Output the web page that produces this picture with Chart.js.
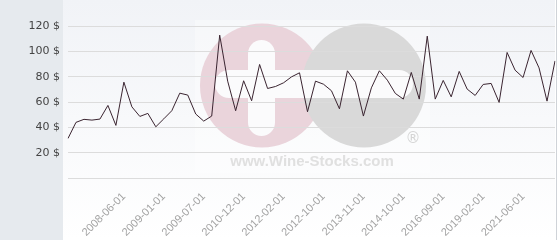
<!DOCTYPE html>
<html>
<head>
<meta charset="utf-8">
<script src="https://cdn.jsdelivr.net/npm/chart.js@4"></script>
<style>
  html, body { margin: 0; padding: 0; background: #ffffff; overflow: hidden; }
  #wrap { width: 560px; height: 240px; position: relative; }
  canvas { display: block; }
</style>
</head>
<body>
<div id="wrap"><canvas id="lineChart" width="560" height="240"></canvas></div>
<script>
// price per month (in $)
const PRICES = [31.3, 44, 46.4, 45.8, 46.6, 57.4, 41.6, 75.8, 56.3, 48.7,
    51.1, 40.5, 46.8, 53.2, 67.1, 65.6, 50.6, 45, 49, 113,
    76.6, 53.2, 76.9, 61.1, 89.8, 70.8, 72.4, 75.3, 80, 83.2,
    52.4, 76.6, 74.2, 69, 54.7, 84.8, 75.8, 49, 71.3, 84.8,
    77.4, 66.9, 62.4, 83.5, 62.4, 112.2, 62.4, 77.2, 64.2, 84.3,
    70.3, 65.3, 74, 74.8, 59.8, 99.3, 85.3, 79.5, 100.9, 87.1,
    60.8, 92.6]
// which points carry a date label
const LABEL_INDEX = [7, 12, 17, 22, 27, 32, 37, 42, 47, 52, 57]
const LABEL_TEXT = ["2008-06-01", "2009-01-01", "2009-07-01", "2010-12-01", "2012-02-01",
    "2012-10-01", "2013-11-01", "2014-10-01", "2016-09-01", "2019-02-01", "2021-06-01"]
const Y_TICKS = [0, 20, 40, 60, 80, 100, 120]

function getLabels(){
    var labels = PRICES.map(() => "")
    LABEL_INDEX.forEach((idx, i) => { labels[idx] = LABEL_TEXT[i] })
    return labels
}

// background panels + the faded logo behind the plot
var backdrop = {
    id: 'backdrop',
    beforeDraw(chart){
        var ctx = chart.ctx
        var area = chart.chartArea
        ctx.save()
        ctx.fillStyle = '#e6eaee'
        ctx.fillRect(0, 0, 63, chart.height)
        var g = ctx.createLinearGradient(0, 0, 0, chart.height)
        g.addColorStop(0, '#f1f3f7')
        g.addColorStop(1, '#ffffff')
        ctx.fillStyle = g
        ctx.fillRect(63, 0, area.right - 63, chart.height)
        ctx.fillStyle = '#cfd3d8'
        ctx.fillRect(area.right + 1, 0, 1, chart.height)

        // watermark
        ctx.fillStyle = 'rgba(255,255,255,0.35)'
        ctx.fillRect(195, 20, 235, 153)
        ctx.fillStyle = '#ead4db'
        ctx.beginPath(); ctx.arc(262, 85.5, 62, 0, Math.PI * 2); ctx.fill()
        ctx.fillStyle = '#d9d9d9'
        ctx.beginPath(); ctx.arc(364, 85.5, 62, 0, Math.PI * 2); ctx.fill()
        ctx.fillStyle = '#fbfbfc'
        ctx.beginPath(); ctx.roundRect(248, 40, 27, 96, 13.5); ctx.fill()
        ctx.beginPath(); ctx.roundRect(215, 70, 198, 28, 14); ctx.fill()
        ctx.fillStyle = '#d4d4d4'
        ctx.font = '15px "DejaVu Sans"'
        ctx.textAlign = 'center'
        ctx.textBaseline = 'middle'
        ctx.fillText('®', 413, 139)
        ctx.fillStyle = '#e0e0e0'
        ctx.font = 'bold 15px "Liberation Sans"'
        ctx.textBaseline = 'alphabetic'
        ctx.fillText('www.Wine-Stocks.com', 312, 166)
        ctx.restore()
    }
}

function drawChart(){
    var lineChart = new Chart(document.getElementById('lineChart'), {
        type: 'line',
        data: {
            labels: getLabels(),
            datasets: [{
                data: PRICES,
                fill: false,
                borderColor: '#3a2430',
                borderWidth: 1,
                pointRadius: 0,
                tension: 0
            }]
        },
        options: {
            responsive: false,
            animation: false,
            layout: { padding: { top: 1, right: 5, left: 0, bottom: 0 } },
            plugins: { legend: { display: false }, tooltip: { enabled: false } },
            scales: {
                x: {
                    offset: false,
                    grid: { display: false },
                    border: { display: false },
                    ticks: {
                        autoSkip: false,
                        minRotation: 45,
                        maxRotation: 45,
                        padding: 4,
                        color: '#a3a3a3',
                        font: { family: 'Liberation Sans', size: 11 }
                    },
                    afterFit: function(scale){
                        scale.height = 62
                        scale.paddingLeft = 0
                        scale.paddingRight = 0
                    }
                },
                y: {
                    min: 0,
                    max: 140,
                    grid: { color: '#dcdcdc', drawTicks: false, lineWidth: 1 },
                    border: { display: false },
                    afterBuildTicks: function(scale){ scale.ticks = Y_TICKS.map(v => ({ value: v })) },
                    ticks: {
                        padding: 8,
                        color: '#444444',
                        font: { family: 'DejaVu Sans', size: 11 },
                        callback: v => v > 0 ? v + ' $' : ''
                    },
                    afterFit: function(scale){
                        scale.width = 68
                        scale.paddingTop = 0
                        scale.paddingBottom = 0
                    }
                }
            }
        },
        plugins: [backdrop]
    });
}

drawChart()
</script>
</body>
</html>
